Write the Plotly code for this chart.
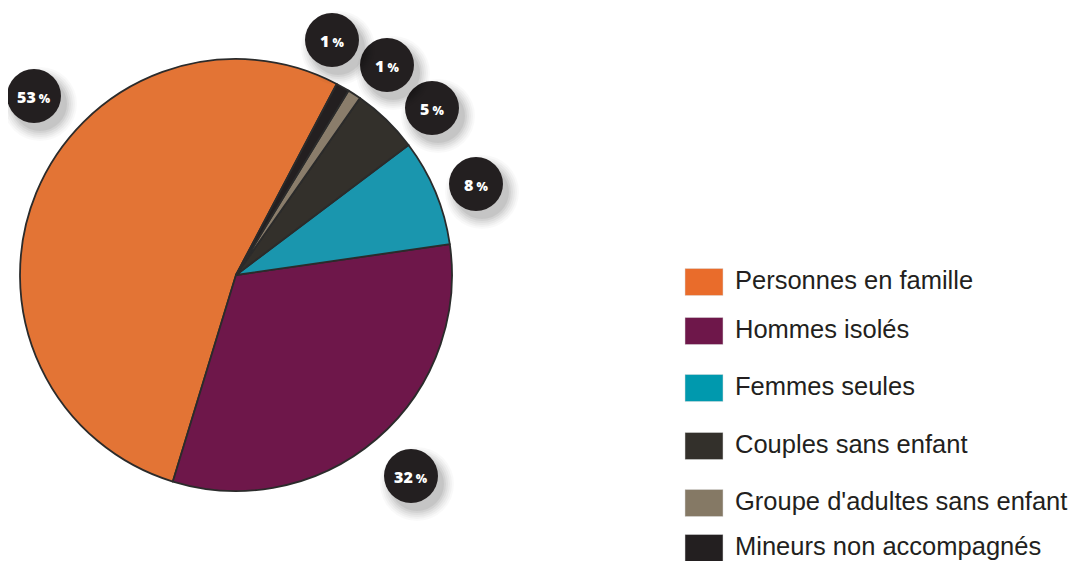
import plotly.graph_objects as go

# ---- data ----
categories = ["Personnes en famille", "Hommes isolés", "Femmes seules",
              "Couples sans enfant", "Groupe d'adultes sans enfant",
              "Mineurs non accompagnés"]
values = [53, 32, 8, 5, 1, 1]
badge_labels = ["53", "32", "8", "5", "1", "1"]

# ---- styles ----
pie_colors = ["#E37435", "#6E174A", "#1A96AE", "#33302B", "#8A7D6B", "#231F20"]
legend_colors = ["#E96C2B", "#6E174A", "#0099AE", "#33302B", "#857965", "#231F20"]
badge_color = "#231F20"

# page body has an 8px margin; work in window pixels and convert
OFF = 8
W, H = 1078 - OFF, 561 - OFF


def px_x(x):
    return (x - OFF) / W


def px_y(y):
    return 1 - (y - OFF) / H


# pie geometry (window pixels)
cx, cy, r = 236, 275, 216

fig = go.Figure()
fig.add_trace(go.Pie(
    labels=categories,
    values=values,
    sort=False,
    direction="counterclockwise",
    rotation=-163,
    textinfo="none",
    marker=dict(colors=pie_colors, line=dict(color="#2b2b2b", width=1.8)),
    domain=dict(x=[px_x(cx - r), px_x(cx + r)], y=[px_y(cy + r), px_y(cy - r)]),
    showlegend=False,
    hovertemplate="%{label}: %{value}%<extra></extra>",
))

shapes = []
annotations = []

# badge positions (window pixel centres), one per category
badge_pos = [(34, 96), (411, 476), (476, 184), (432, 108), (387, 65), (332, 40)]
br = 27
shadow_layers = [(10, 0.025), (8, 0.03), (6, 0.035), (4, 0.04), (2, 0.05), (0, 0.06)]
for (bx, by), lab in zip(badge_pos, badge_labels):
    sx, sy = bx + 6, by + 8
    for grow, op in shadow_layers:
        rr = br + grow
        shapes.append(dict(type="circle", xref="paper", yref="paper",
                           x0=px_x(sx - rr), x1=px_x(sx + rr),
                           y0=px_y(sy + rr), y1=px_y(sy - rr),
                           fillcolor=f"rgba(0,0,0,{op})", line=dict(width=0),
                           layer="above"))
    shapes.append(dict(type="circle", xref="paper", yref="paper",
                       x0=px_x(bx - br), x1=px_x(bx + br),
                       y0=px_y(by + br), y1=px_y(by - br),
                       fillcolor=badge_color, line=dict(width=0), layer="above"))
    annotations.append(dict(
        x=px_x(bx), y=px_y(by + 1), xref="paper", yref="paper",
        text=f"{lab}<span style='font-size:12px'> %</span>",
        showarrow=False, xanchor="center", yanchor="middle",
        font=dict(family="Open Sans, DejaVu Sans", size=16, color="white", weight=900),
    ))

# manual legend
legend_rows = [282, 331, 388, 446, 503, 548]
for cat, col, ry in zip(categories, legend_colors, legend_rows):
    shapes.append(dict(type="rect", xref="paper", yref="paper",
                       x0=px_x(685), x1=px_x(723),
                       y0=px_y(ry + 13.5), y1=px_y(ry - 13.5),
                       fillcolor=col, line=dict(width=0.5, color="#dddddd"),
                       layer="above"))
    annotations.append(dict(
        x=px_x(733), y=px_y(ry - 2), xref="paper", yref="paper",
        text=cat, showarrow=False, xanchor="left", yanchor="middle",
        font=dict(family="Liberation Sans, Arial", size=25.5, color="#231F20"),
    ))

fig.update_layout(
    width=W, height=H,
    margin=dict(l=0, r=0, t=0, b=0),
    paper_bgcolor="white",
    plot_bgcolor="white",
    shapes=shapes,
    annotations=annotations,
    showlegend=False,
)

fig.write_html("out.html")
